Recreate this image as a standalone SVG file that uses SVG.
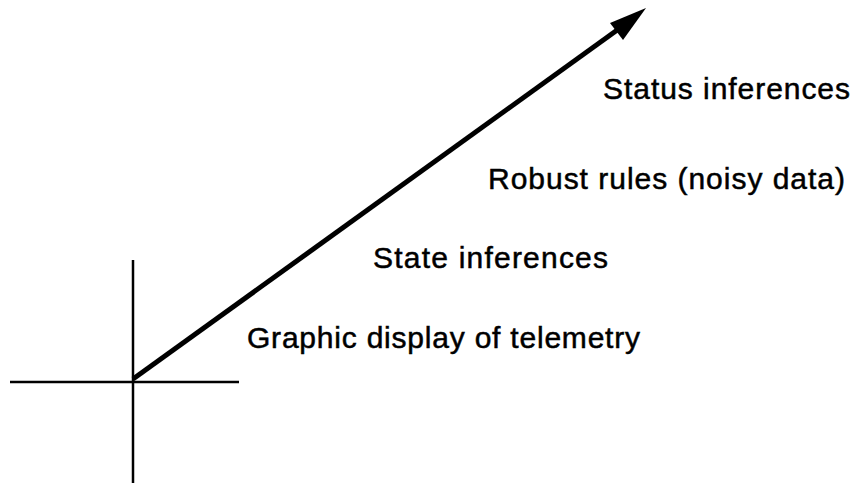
<svg xmlns="http://www.w3.org/2000/svg" width="859" height="485" viewBox="0 0 859 485">
<style>
.lbl{font-family:"Liberation Sans",Arial,sans-serif;font-size:30px;fill:#000;stroke:#000;stroke-width:0.5}
.ax{stroke:#000;stroke-width:2.5;fill:none}
</style>
<rect width="859" height="485" fill="#fff"/>
<g id="axes">
<line class="ax" x1="133" y1="260" x2="133" y2="483"/>
<line class="ax" x1="10" y1="382" x2="239" y2="382"/>
</g>
<g id="connectors">
<line x1="133" y1="379" x2="620" y2="28" stroke="#000" stroke-width="5"/>
<polygon points="646,8 610,23 623,40" fill="#000"/>
</g>
<g id="labels">
<text id="t1" class="lbl" x="603" y="99" textLength="247" lengthAdjust="spacing">Status inferences</text>
<text id="t2" class="lbl" x="488" y="189" textLength="357" lengthAdjust="spacing">Robust rules (noisy data)</text>
<text id="t3" class="lbl" x="373" y="268" textLength="235" lengthAdjust="spacing">State inferences</text>
<text id="t4" class="lbl" x="247" y="348" textLength="393" lengthAdjust="spacing">Graphic display of telemetry</text>
</g>
</svg>
